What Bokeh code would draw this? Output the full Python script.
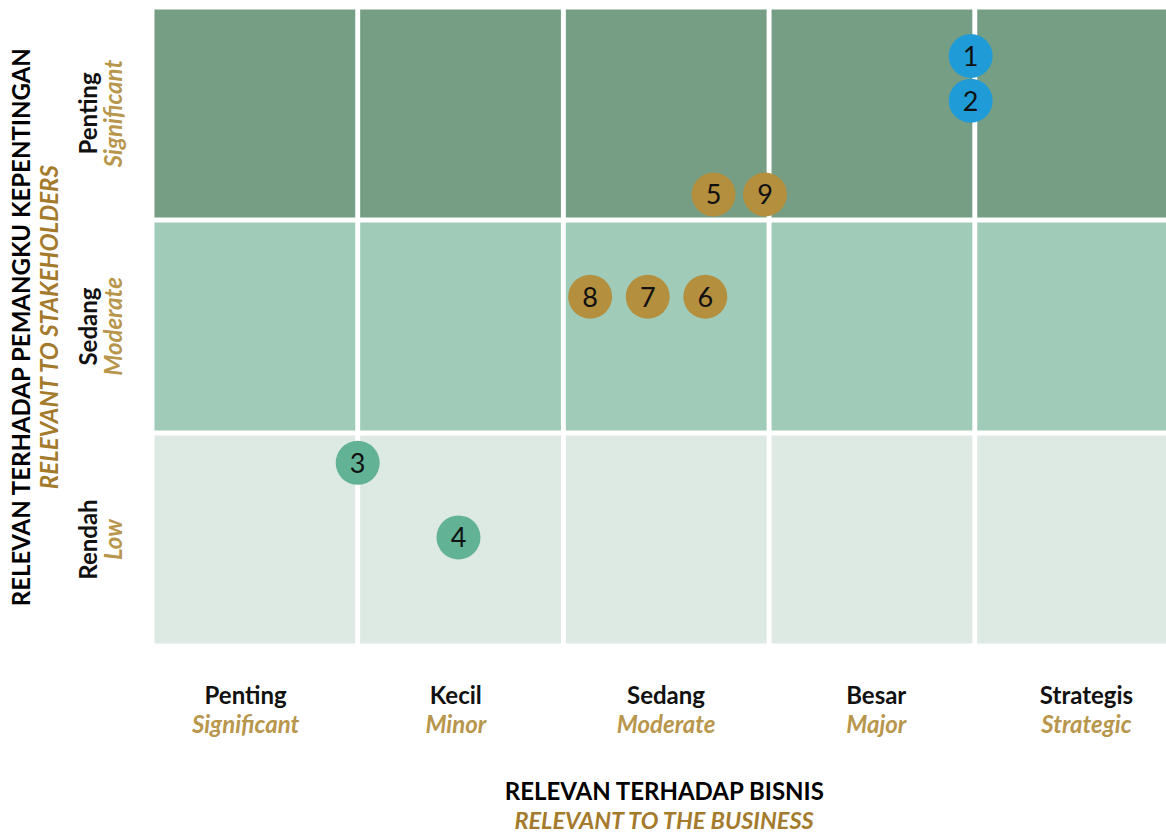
import math
from bokeh.plotting import figure
from bokeh.models import ColumnDataSource, Range1d
from bokeh.core.properties import value
from bokeh.embed import file_html
from bokeh.resources import INLINE

# ---- data ----
x_categories = ["Penting", "Kecil", "Sedang", "Besar", "Strategis"]
x_categories_en = ["Significant", "Minor", "Moderate", "Major", "Strategic"]
y_categories = ["Rendah", "Sedang", "Penting"]
y_categories_en = ["Low", "Moderate", "Significant"]
row_colors = ["#dde9e3", "#a0cbb9", "#769e84"]

point_ids = ["1", "2", "3", "4", "5", "6", "7", "8", "9"]
point_x = [3.98, 3.98, 1.00, 1.49, 2.73, 2.69, 2.41, 2.13, 2.98]
point_y = [2.77, 2.56, 0.86, 0.51, 2.12, 1.64, 1.64, 1.64, 2.12]
point_colors = ["#1f9bd7", "#1f9bd7", "#62b295", "#62b295",
                "#b38f3e", "#b38f3e", "#b38f3e", "#b38f3e", "#b38f3e"]

x_title = "RELEVAN TERHADAP BISNIS"
x_title_en = "RELEVANT TO THE BUSINESS"
y_title = "RELEVAN TERHADAP PEMANGKU KEPENTINGAN"
y_title_en = "RELEVANT TO STAKEHOLDERS"

FONT = value("Lato")
GOLD = "#b8964c"
GOLD_DARK = "#a47a2c"

p = figure(width=1166, height=836, output_backend="svg", toolbar_location=None,
           x_range=Range1d(-0.7365, 4.932), y_range=Range1d(-0.894, 3.0305),
           min_border_left=0, min_border_right=0, min_border_top=0,
           min_border_bottom=0)
p.axis.visible = False
p.grid.visible = False
p.outline_line_color = None
p.background_fill_color = "white"
p.border_fill_color = "white"

# cells
g = 0.012
lefts, rights, bottoms, tops, cols = [], [], [], [], []
for j in range(len(y_categories)):
    for i in range(len(x_categories)):
        lefts.append(i + g)
        rights.append(i + 1 - g)
        bottoms.append(j + g)
        tops.append(j + 1 - g)
        cols.append(row_colors[j])
p.quad(left=lefts, right=rights, bottom=bottoms, top=tops, fill_color=cols, line_color=None)

src = ColumnDataSource(dict(x=point_x, y=point_y, c=point_colors, t=point_ids))
p.scatter("x", "y", source=src, size=44, fill_color="c", line_color=None)
p.text("x", "y", text="t", source=src, text_align="center", text_baseline="middle",
       text_font=FONT, text_font_size="27px", text_color="#111111")

# x category labels
xl = [0.455 + i * 1.022 for i in range(len(x_categories))]
p.text(x=xl, y=[-0.228] * len(xl), text=x_categories, text_align="center",
       text_baseline="middle", text_font=FONT, text_font_size="24px",
       text_font_style="bold", text_color="#111111")
p.text(x=xl, y=[-0.364] * len(xl), text=x_categories_en, text_align="center",
       text_baseline="middle", text_font=FONT, text_font_size="24px",
       text_font_style="bold italic", text_color=GOLD)

# y category labels
yl = [j + 0.5 for j in range(len(y_categories))]
p.text(x=[-0.314] * len(yl), y=yl, text=y_categories, angle=math.pi / 2,
       text_align="center", text_baseline="middle", text_font=FONT,
       text_font_size="24px", text_font_style="bold", text_color="#111111")
p.text(x=[-0.192] * len(yl), y=yl, text=y_categories_en, angle=math.pi / 2,
       text_align="center", text_baseline="middle", text_font=FONT,
       text_font_size="24px", text_font_style="bold italic", text_color=GOLD)

# titles
p.text(x=[2.494], y=[-0.680], text=[x_title], text_align="center", text_baseline="middle",
       text_font=FONT, text_font_size="24px", text_font_style="bold", text_color="#000000")
p.text(x=[2.494], y=[-0.818], text=[x_title_en], text_align="center", text_baseline="middle",
       text_font=FONT, text_font_size="23.5px", text_font_style="bold italic",
       text_color=GOLD_DARK)
p.text(x=[-0.639], y=[1.5], text=[y_title], angle=math.pi / 2, text_align="center",
       text_baseline="middle", text_font=FONT, text_font_size="24px",
       text_font_style="bold", text_color="#000000")
p.text(x=[-0.503], y=[1.5], text=[y_title_en], angle=math.pi / 2, text_align="center",
       text_baseline="middle", text_font=FONT, text_font_size="24px",
       text_font_style="bold italic", text_color=GOLD_DARK)

open("out.html", "w").write(file_html(p, INLINE))
